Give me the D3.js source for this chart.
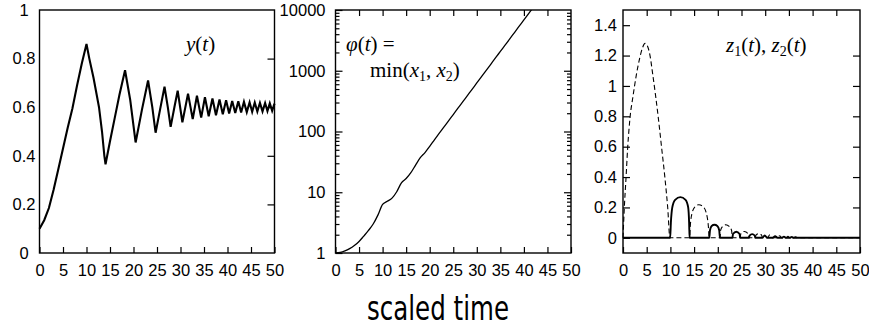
<!DOCTYPE html>
<html><head><meta charset="utf-8">
<script src="https://cdn.jsdelivr.net/npm/d3@7"></script>
<style>
body{margin:0;background:#fff;}
svg{display:block;}
</style></head><body>
<svg id="c" width="869" height="329"></svg>
<script>
// ---------- data ----------
const xTicks = [0,5,10,15,20,25,30,35,40,45,50];
const y1Ticks = [0,0.2,0.4,0.6,0.8,1];
const y2Ticks = [1,10,100,1000,10000];
const y2Minor = [2,3,4,5,6,7,8,9,20,30,40,50,60,70,80,90,200,300,400,500,600,700,800,900,2000,3000,4000,5000,6000,7000,8000,9000];
const y3Ticks = [0,0.2,0.4,0.6,0.8,1,1.2,1.4];

// y(t)
const yPoints = [[0,0.10],[1,0.135],[2,0.185],[3,0.26],[4,0.345],[5,0.43],[6,0.515],[7,0.595],[8,0.69],[9,0.78],[10,0.86],
 [10.6,0.80],[11.5,0.72],[12.66,0.60],[13.3,0.50],[13.8,0.40],[14.05,0.365],
 [15,0.46],[16,0.555],[17,0.65],[18.2,0.752],[19.3,0.63],[20.45,0.455],
 [21.8,0.59],[23.1,0.71],[24.0,0.60],[24.7,0.495],[25.7,0.595],[26.6,0.684],
 [27.3,0.60],[27.9,0.519],[28.7,0.60],[29.4,0.668],[30.4,0.538],[31.6,0.656],[32.6,0.551],
 [33.5,0.647],[34.4,0.557],[35.2,0.641],[36.0,0.563],[36.8,0.636],[37.55,0.567],[38.3,0.632],
 [39.0,0.571],[39.7,0.629],[40.35,0.574],[41.0,0.626],[41.65,0.576],[42.3,0.624],[42.9,0.578],
 [43.5,0.622],[44.1,0.580],[44.7,0.620],[45.25,0.581],[45.8,0.619],[46.35,0.582],[46.9,0.618],
 [47.45,0.583],[48.0,0.617],[48.5,0.584],[49.0,0.616],[49.5,0.585],[50.0,0.615]];

// phi(t) = min(x1,x2)
const phiPoints = [[0,1],[1,1.02],[2,1.08],[3,1.18],[4,1.33],[5,1.55],[6,1.9],[7,2.35],[8,3.0],[9,4.2],[10,6.3],
 [11,7.1],[12,8.0],[13,10.2],[14,14.3],[15,16.8],[16,21],[17,28],[18,37],[19,45],[20,57],[21,73],[22,93],
 [23,118],[24,150],[25,190],[26,242],[27,307],[28,390],[29,495],[30,630],[31,800],[32,1015],[33,1290],
 [34,1640],[35,2080],[36,2640],[37,3350],[38,4260],[39,5410],[40,6870],[41,8720],[42,11080]];

// z1(t) solid, z2(t) dashed
const z1Points = [[0,0],[9.95,0],[10.1,0.1],[10.4,0.2],[11,0.25],[12.1,0.268],[13.2,0.25],[13.75,0.2],[13.95,0.1],[14.05,0],
 [18.2,0],[18.35,0.05],[18.7,0.078],[19.3,0.086],[19.9,0.078],[20.3,0.05],[20.45,0],
 [23.1,0],[23.2,0.025],[23.9,0.04],[24.6,0.025],[24.7,0],
 [26.6,0],[26.7,0.015],[27.25,0.024],[27.8,0.015],[27.9,0],
 [29.4,0],[29.9,0.016],[30.4,0],[31.6,0],[32.1,0.011],[32.6,0],[33.5,0],[33.95,0.008],[34.4,0],
 [35.2,0],[35.6,0.006],[36.0,0],[50,0]];
const z2Points = [[0,0],[0.28,0.2],[0.63,0.39],[0.98,0.59],[1.48,0.79],[2.1,0.93],[2.8,1.07],[3.5,1.18],[4.1,1.25],
 [4.65,1.28],[5.2,1.26],[5.7,1.2],[6.3,1.07],[6.9,0.93],[7.45,0.79],[8.16,0.59],[8.86,0.39],[9.43,0.2],[9.9,0],
 [14.05,0],[14.2,0.08],[14.55,0.16],[15.2,0.205],[16.0,0.218],[16.9,0.205],[17.6,0.16],[18.0,0.08],[18.2,0],
 [20.45,0],[20.6,0.05],[21.0,0.075],[21.7,0.086],[22.4,0.075],[22.9,0.05],[23.1,0],
 [24.7,0],[24.85,0.025],[25.6,0.042],[26.45,0.025],[26.6,0],
 [27.9,0],[28.05,0.017],[28.65,0.028],[29.25,0.017],[29.4,0],
 [30.4,0],[31.0,0.02],[31.6,0],[32.6,0],[33.05,0.014],[33.5,0],[34.4,0],[34.8,0.01],[35.2,0],
 [36.0,0],[36.4,0.007],[36.8,0],[50,0]];

// ---------- layout ----------
const svg = d3.select("#c");
const yTop = 10, yBot = 253;
const P = [{x0:39.5,x1:274.5},{x0:335.5,x1:571},{x0:623,x1:860}];
const TF = "Liberation Sans, Arial, sans-serif";

function styleAxis(g){
  g.select(".domain").remove();
  g.attr("font-family", TF).attr("font-size", 16.5);
  g.selectAll(".tick line").attr("stroke","#000").attr("stroke-width",1.2);
  g.selectAll(".tick text").attr("fill","#000");
}

function panel(i, y, yTickVals, opts){
  const p = P[i];
  const x = d3.scaleLinear().domain([0,50]).range([p.x0,p.x1]);
  const g = svg.append("g");
  g.append("g").attr("transform",`translate(0,${yBot})`)
   .call(d3.axisBottom(x).tickValues(xTicks).tickSizeInner(-6).tickSizeOuter(0).tickPadding(11).tickFormat(d=>String(d)))
   .call(styleAxis);
  if (opts.top) g.append("g").attr("transform",`translate(0,${yTop})`)
   .call(d3.axisTop(x).tickValues(xTicks.slice(1,-1)).tickSizeInner(-6).tickSizeOuter(0).tickFormat(""))
   .call(styleAxis);
  const la = g.append("g").attr("transform",`translate(${p.x0},0)`)
   .call(d3.axisLeft(y).tickValues(yTickVals).tickSizeInner(opts.leftTicks ? -7 : 0).tickSizeOuter(0).tickPadding(opts.pad).tickFormat(d=>String(d)))
   .call(styleAxis);
  if (opts.center) la.selectAll(".tick text").attr("text-anchor","middle").attr("x",-opts.center);
  g.append("g").attr("transform",`translate(${p.x1},0)`)
   .call(d3.axisRight(y).tickValues(yTickVals.slice(1,-1)).tickSizeInner(-7).tickSizeOuter(0).tickFormat(""))
   .call(styleAxis);
  if (opts.minor){
    g.append("g").attr("transform",`translate(${p.x0},0)`)
     .call(d3.axisLeft(y).tickValues(opts.minor).tickSizeInner(-4).tickSizeOuter(0).tickFormat("")).call(styleAxis);
    g.append("g").attr("transform",`translate(${p.x1},0)`)
     .call(d3.axisRight(y).tickValues(opts.minor).tickSizeInner(-4).tickSizeOuter(0).tickFormat("")).call(styleAxis);
  }
  g.append("rect").attr("x",p.x0).attr("y",yTop).attr("width",p.x1-p.x0).attr("height",yBot-yTop)
   .attr("fill","none").attr("stroke","#000").attr("stroke-width",1.4);
  svg.append("clipPath").attr("id","clip"+i).append("rect")
   .attr("x",p.x0).attr("y",yTop).attr("width",p.x1-p.x0).attr("height",yBot-yTop);
  return {x, g};
}

// Panel 1
const y1 = d3.scaleLinear().domain([0,1]).range([yBot,yTop]);
const p1 = panel(0, y1, y1Ticks, {top:false, leftTicks:false, pad:3, center:15.5});
p1.g.append("path").datum(yPoints)
  .attr("d", d3.line().x(d=>p1.x(d[0])).y(d=>y1(d[1])))
  .attr("fill","none").attr("stroke","#000").attr("stroke-width",2.1).attr("stroke-linejoin","miter");

// Panel 2
const y2 = d3.scaleLog().domain([1,10000]).range([yBot,yTop]);
const p2 = panel(1, y2, y2Ticks, {top:true, leftTicks:true, pad:10, minor:y2Minor});
p2.g.append("path").datum(phiPoints).attr("clip-path","url(#clip1)")
  .attr("d", d3.line().curve(d3.curveMonotoneX).x(d=>p2.x(d[0])).y(d=>y2(d[1])))
  .attr("fill","none").attr("stroke","#000").attr("stroke-width",1.3);

// Panel 3
const y3 = d3.scaleLinear().domain([-0.1,1.5]).range([yBot,yTop]);
const p3 = panel(2, y3, y3Ticks, {top:true, leftTicks:true, pad:6});
p3.g.append("path").datum(z2Points)
  .attr("d", d3.line().curve(d3.curveMonotoneX).x(d=>p3.x(d[0])).y(d=>y3(d[1])))
  .attr("fill","none").attr("stroke","#000").attr("stroke-width",1.1).attr("stroke-dasharray","5,3");
p3.g.append("path").datum(z1Points)
  .attr("d", d3.line().curve(d3.curveMonotoneX).x(d=>p3.x(d[0])).y(d=>y3(d[1])))
  .attr("fill","none").attr("stroke","#000").attr("stroke-width",1.9);

// ---------- in-panel labels ----------
const MF = "Liberation Serif, Times New Roman, serif";
function mt(x,y,parts){
  const t = svg.append("text").attr("x",x).attr("y",y).attr("font-family",MF).attr("font-size",21).attr("fill","#000");
  let shifted = false;
  parts.forEach(p => {
    const ts = t.append("tspan").text(p.s);
    if (p.i) ts.attr("font-style","italic");
    if (p.sub){ ts.attr("font-size",14).attr("dy",4); shifted = true; }
    else if (shifted){ ts.attr("dy",-4); shifted = false; }
  });
}
mt(186, 51, [{s:"y",i:1},{s:"("},{s:"t",i:1},{s:")"}]);
mt(346, 51, [{s:"φ",i:1},{s:"("},{s:"t",i:1},{s:") ="}]);
mt(370, 77, [{s:"min("},{s:"x",i:1},{s:"1",sub:1},{s:", "},{s:"x",i:1},{s:"2",sub:1},{s:")"}]);
mt(726, 52, [{s:"z",i:1},{s:"1",sub:1},{s:"("},{s:"t",i:1},{s:"), "},{s:"z",i:1},{s:"2",sub:1},{s:"("},{s:"t",i:1},{s:")"}]);

// ---------- x label ----------
svg.append("text").attr("x",438).attr("y",320).attr("text-anchor","middle")
  .attr("font-family","DejaVu Sans, sans-serif").attr("font-size",33).attr("fill","#000")
  .attr("textLength",142).attr("lengthAdjust","spacingAndGlyphs")
  .text("scaled time");
</script>
</body></html>
